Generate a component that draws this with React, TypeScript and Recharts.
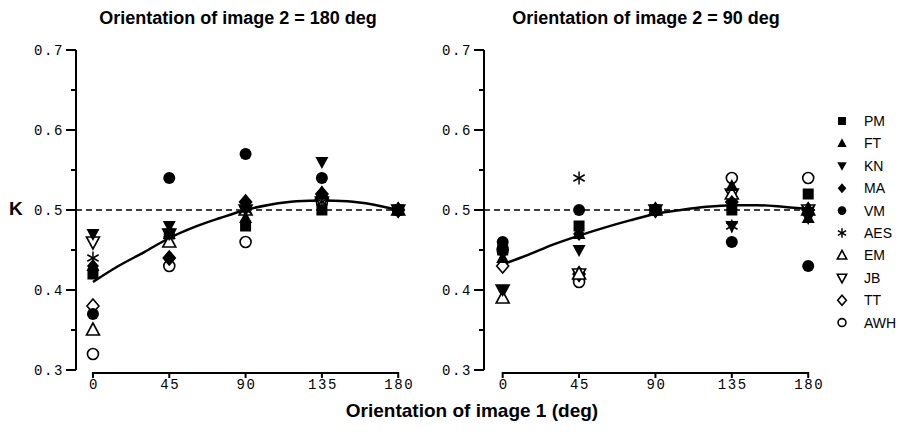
import React from "react";
import { ComposedChart, Scatter, Line, XAxis, YAxis, ReferenceLine } from "recharts";

const ORIENTATIONS = [0, 45, 90, 135, 180];
const X_TICKS = [0, 45, 90, 135, 180];
const Y_TICKS = [0.3, 0.35, 0.4, 0.45, 0.5, 0.55, 0.6, 0.65, 0.7];

const SUBJECTS = ["PM", "FT", "KN", "MA", "VM", "AES", "EM", "JB", "TT", "AWH"];
const MARKERS = [
  "square",
  "triUp",
  "triDown",
  "diamond",
  "circle",
  "star",
  "openTriUp",
  "openTriDown",
  "openDiamond",
  "openCircle",
];

// image 2 at 180 deg
const PM_180 = [0.42, 0.47, 0.48, 0.5, 0.5];
const FT_180 = [0.43, 0.47, 0.49, 0.52, 0.5];
const KN_180 = [0.47, 0.48, 0.5, 0.56, 0.5];
const MA_180 = [0.43, 0.44, 0.51, 0.52, 0.5];
const VM_180 = [0.37, 0.54, 0.57, 0.54, 0.5];
const AES_180 = [0.44, 0.47, 0.5, 0.51, 0.5];
const EM_180 = [0.35, 0.46, 0.5, 0.52, 0.5];
const JB_180 = [0.46, 0.47, 0.5, 0.51, 0.5];
const TT_180 = [0.38, 0.44, 0.51, 0.52, 0.5];
const AWH_180 = [0.32, 0.43, 0.46, 0.51, 0.5];

// image 2 at 90 deg
const PM_90 = [0.45, 0.48, 0.5, 0.5, 0.52];
const FT_90 = [0.44, 0.47, 0.5, 0.53, 0.49];
const KN_90 = [0.4, 0.45, 0.5, 0.48, 0.49];
const MA_90 = [0.45, 0.47, 0.5, 0.51, 0.5];
const VM_90 = [0.46, 0.5, 0.5, 0.46, 0.43];
const AES_90 = [0.45, 0.54, 0.5, 0.48, 0.5];
const EM_90 = [0.39, 0.42, 0.5, 0.52, 0.5];
const JB_90 = [0.4, 0.42, 0.5, 0.52, 0.5];
const TT_90 = [0.43, 0.42, 0.5, 0.51, 0.5];
const AWH_90 = [0.45, 0.41, 0.5, 0.54, 0.54];

// fitted curves
const FIT_X = [0, 15, 30, 45, 60, 75, 90, 105, 120, 135, 150, 165, 180];
const FIT_180 = [0.41, 0.43, 0.447, 0.465, 0.479, 0.49, 0.5, 0.507, 0.511, 0.512, 0.511, 0.507, 0.5];
const FIT_90 = [0.432, 0.444, 0.457, 0.468, 0.478, 0.487, 0.495, 0.5, 0.504, 0.506, 0.506, 0.504, 0.501];

const SERIES_180 = [PM_180, FT_180, KN_180, MA_180, VM_180, AES_180, EM_180, JB_180, TT_180, AWH_180];
const SERIES_90 = [PM_90, FT_90, KN_90, MA_90, VM_90, AES_90, EM_90, JB_90, TT_90, AWH_90];

const MONO = '"Liberation Mono", "DejaVu Sans Mono", monospace';
const SANS = '"Liberation Sans", Arial, sans-serif';

const Marker = ({ kind, cx, cy, k = 1 }: { kind: string; cx: number; cy: number; k?: number }) => {
  const open = kind.startsWith("open");
  const fill = open ? "#fff" : "#000";
  const sw = open ? 1.6 : 0;
  switch (kind) {
    case "square":
      return <rect x={cx - 5.5 * k} y={cy - 5.5 * k} width={11 * k} height={11 * k} fill="#000" />;
    case "triUp":
    case "openTriUp":
      return (
        <polygon
          points={`${cx},${cy - 7 * k} ${cx - 6.5 * k},${cy + 5 * k} ${cx + 6.5 * k},${cy + 5 * k}`}
          fill={fill}
          stroke="#000"
          strokeWidth={sw}
        />
      );
    case "triDown":
    case "openTriDown":
      return (
        <polygon
          points={`${cx},${cy + 7 * k} ${cx - 6.5 * k},${cy - 5 * k} ${cx + 6.5 * k},${cy - 5 * k}`}
          fill={fill}
          stroke="#000"
          strokeWidth={sw}
        />
      );
    case "diamond":
    case "openDiamond":
      return (
        <polygon
          points={`${cx},${cy - 7 * k} ${cx + 6 * k},${cy} ${cx},${cy + 7 * k} ${cx - 6 * k},${cy}`}
          fill={fill}
          stroke="#000"
          strokeWidth={sw}
        />
      );
    case "circle":
    case "openCircle":
      return <circle cx={cx} cy={cy} r={(open ? 5.5 : 6) * k} fill={fill} stroke="#000" strokeWidth={sw} />;
    case "star": {
      const r = 6.5 * k;
      return (
        <g stroke="#000" strokeWidth={1.5}>
          <line x1={cx} y1={cy - r} x2={cx} y2={cy + r} />
          <line x1={cx - r * 0.87} y1={cy - r * 0.5} x2={cx + r * 0.87} y2={cy + r * 0.5} />
          <line x1={cx - r * 0.87} y1={cy + r * 0.5} x2={cx + r * 0.87} y2={cy - r * 0.5} />
        </g>
      );
    }
    default:
      return null;
  }
};

const YTick = (props: any) => {
  const { x, y, payload } = props;
  const v = payload.value;
  const major = Math.abs(v * 10 - Math.round(v * 10)) < 1e-6;
  return (
    <g>
      <line x1={x - (major ? 10 : 5)} x2={x} y1={y} y2={y} stroke="#000" strokeWidth={2} />
      {major && (
        <text x={x - 12} y={y + 5} textAnchor="end" fontFamily={MONO} fontSize={14} letterSpacing={1.6} fill="#000">
          {v.toFixed(1)}
        </text>
      )}
    </g>
  );
};

const XTick = (props: any) => {
  const { x, y, payload } = props;
  return (
    <g>
      <line x1={x} x2={x} y1={y + 2} y2={y + 8} stroke="#000" strokeWidth={2} />
      <text x={x + 1} y={y + 19} textAnchor="middle" fontFamily={MONO} fontSize={14} letterSpacing={1.6} fill="#000">
        {payload.value}
      </text>
    </g>
  );
};

type PanelProps = {
  title: string;
  series: number[][];
  fit: number[];
  left: number;
  width: number;
  marginLeft: number;
  marginRight: number;
  yWidth: number;
  xMin: number;
  titleX: number;
};

// drawn last-to-first so the filled PM squares end up on top
const DRAW_ORDER = [9, 8, 7, 6, 5, 4, 3, 2, 1, 0];

const Panel = ({ title, series, fit, left, width, marginLeft, marginRight, yWidth, xMin, titleX }: PanelProps) => {
  const fitData = FIT_X.map((x, i) => ({ x, y: fit[i] }));
  return (
    <div style={{ position: "absolute", left, top: 0, width, height: 435 }}>
      <div
        style={{
          position: "absolute",
          left: titleX - 200,
          width: 400,
          top: 7,
          textAlign: "center",
          fontFamily: SANS,
          fontWeight: "bold",
          fontSize: 18,
          lineHeight: "22px",
        }}
      >
        {title}
      </div>
      <ComposedChart
        width={width}
        height={435}
        margin={{ top: 50, right: marginRight, left: marginLeft, bottom: 35 }}
      >
        <XAxis
          type="number"
          dataKey="x"
          domain={[xMin, 184]}
          ticks={X_TICKS}
          interval={0}
          axisLine={false}
          tickLine={false}
          tickSize={0}
          tickMargin={0}
          height={30}
          tick={<XTick />}
        />
        <YAxis
          type="number"
          dataKey="y"
          domain={[0.3, 0.7]}
          ticks={Y_TICKS}
          interval={0}
          width={yWidth}
          axisLine={{ stroke: "#000", strokeWidth: 2 }}
          tickLine={false}
          tickSize={0}
          tickMargin={0}
          tick={<YTick />}
        />
        <ReferenceLine y={0.5} stroke="#000" strokeWidth={1.5} strokeDasharray="6 4" />
        <ReferenceLine
          segment={[
            { x: 0, y: 0.29625 },
            { x: 180, y: 0.29625 },
          ]}
          ifOverflow="visible"
          stroke="#000"
          strokeWidth={2}
        />
        {DRAW_ORDER.map((si) => (
          <Scatter
            key={SUBJECTS[si]}
            name={SUBJECTS[si]}
            data={ORIENTATIONS.map((x, i) => ({ x, y: series[si][i] }))}
            isAnimationActive={false}
            shape={(p: any) => <Marker kind={MARKERS[si]} cx={p.cx} cy={p.cy} />}
          />
        ))}
        <Line
          data={fitData}
          dataKey="y"
          type="monotone"
          stroke="#000"
          strokeWidth={2.5}
          dot={false}
          activeDot={false}
          isAnimationActive={false}
        />
      </ComposedChart>
    </div>
  );
};

const LegendBox = () => (
  <svg style={{ position: "absolute", left: 829, top: 108 }} width={68} height={230}>
    {SUBJECTS.map((s, i) => (
      <g key={s}>
        <Marker kind={MARKERS[i]} cx={13} cy={13 + i * 22.4} k={0.72} />
        <text x={35} y={13 + i * 22.4 + 5} fontFamily={SANS} fontSize={14} fill="#000">
          {s}
        </text>
      </g>
    ))}
  </svg>
);

const App = () => (
  <div
    style={{
      position: "absolute",
      left: 0,
      top: 0,
      width: 898,
      height: 435,
      background: "#fff",
      overflow: "hidden",
    }}
  >
    <Panel
      title="Orientation of image 2 = 180 deg"
      series={SERIES_180}
      fit={FIT_180}
      left={0}
      width={420}
      marginLeft={16}
      marginRight={15}
      yWidth={60}
      xMin={-10}
      titleX={238}
    />
    <Panel
      title="Orientation of image 2 = 90 deg"
      series={SERIES_90}
      fit={FIT_90}
      left={420}
      width={478}
      marginLeft={4}
      marginRight={83}
      yWidth={60}
      xMin={-11}
      titleX={226}
    />
    <LegendBox />
    <div
      style={{
        position: "absolute",
        left: 9,
        top: 198,
        fontFamily: SANS,
        fontWeight: "bold",
        fontSize: 19,
      }}
    >
      K
    </div>
    <div
      style={{
        position: "absolute",
        left: 272,
        width: 400,
        top: 400,
        textAlign: "center",
        fontFamily: SANS,
        fontWeight: "bold",
        fontSize: 19,
      }}
    >
      Orientation of image 1 (deg)
    </div>
  </div>
);

export default App;
